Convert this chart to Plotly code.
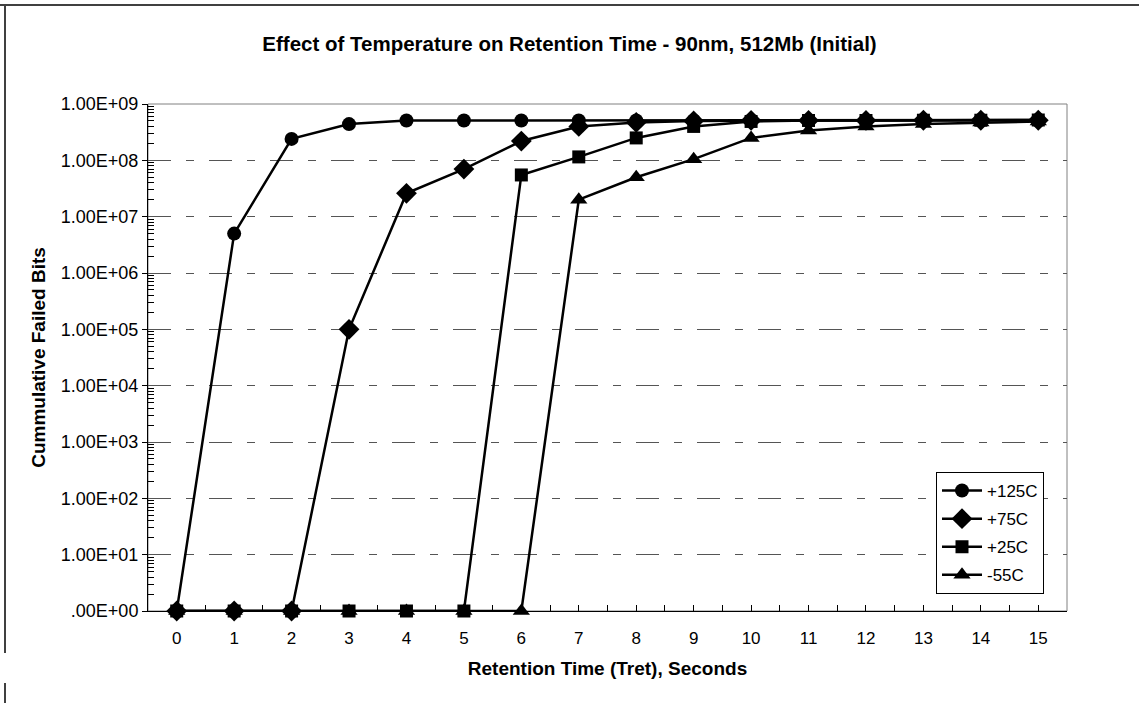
import plotly.graph_objects as go

# Retention time steps (seconds)
retention_time = list(range(16))

# Cumulative failed bits per temperature (zero-fail points sit on the 1.00E+00 floor)
fails_125c = [1, 5.0e6, 2.4e8, 4.4e8, 5.1e8, 5.1e8, 5.1e8, 5.1e8, 5.1e8, 5.1e8,
              5.15e8, 5.15e8, 5.15e8, 5.2e8, 5.2e8, 5.2e8]
fails_75c = [1, 1, 1, 1.0e5, 2.6e7, 7.0e7, 2.2e8, 4.0e8, 4.7e8, 5.0e8,
             5.1e8, 5.1e8, 5.1e8, 5.15e8, 5.15e8, 5.15e8]
fails_25c = [1, 1, 1, 1, 1, 1, 5.5e7, 1.15e8, 2.5e8, 4.0e8,
             4.9e8, 5.1e8, 5.1e8, 5.15e8, 5.15e8, 5.2e8]
fails_m55c = [1, 1, 1, 1, 1, 1, 1, 2.0e7, 5.0e7, 1.05e8,
              2.5e8, 3.4e8, 4.0e8, 4.4e8, 4.7e8, 4.9e8]

series_names = ["+125C", "+75C", "+25C", "-55C"]
series_values = [fails_125c, fails_75c, fails_25c, fails_m55c]
series_symbols = ["circle", "diamond", "square", "triangle-up"]
series_sizes = [14, 16, 13, 15]

y_tick_vals = [10 ** k for k in range(10)]
y_tick_text = [".00E+00", "1.00E+01", "1.00E+02", "1.00E+03", "1.00E+04",
               "1.00E+05", "1.00E+06", "1.00E+07", "1.00E+08", "1.00E+09"]
y_minor_vals = [m * 10 ** k for k in range(9) for m in range(2, 10)]

FONT = "Liberation Sans, Arial, sans-serif"

fig = go.Figure()
for name, vals, sym, size in zip(series_names, series_values, series_symbols, series_sizes):
    fig.add_trace(go.Scatter(
        x=retention_time, y=vals, name=name, legendgroup=name,
        mode="lines+markers",
        line=dict(color="black", width=2.5),
        marker=dict(symbol=sym, size=size, color="black"),
        cliponaxis=False,
    ))

# plot area: x 148..1067, y 104..611 px
L, R, T, B = 148, 1067, 104, 611
W, H = 1139, 703
pw, ph = R - L, B - T


def px_x(p):
    return (p - L) / pw


def px_y(p):
    return (B - p) / ph


shapes = [
    # grey plot-area border
    dict(type="rect", xref="paper", yref="paper", x0=0, x1=1, y0=0, y1=1,
         line=dict(color="#808080", width=1), layer="below"),
    # outer chart frame pieces
    dict(type="line", xref="paper", yref="paper", x0=px_x(0), x1=px_x(W),
         y0=px_y(5), y1=px_y(5), line=dict(color="#404040", width=2)),
    dict(type="line", xref="paper", yref="paper", x0=px_x(5), x1=px_x(5),
         y0=px_y(5), y1=px_y(653), line=dict(color="#404040", width=2)),
    dict(type="line", xref="paper", yref="paper", x0=px_x(5), x1=px_x(5),
         y0=px_y(683), y1=px_y(W), line=dict(color="#404040", width=2)),
]

fig.update_layout(
    width=W, height=H,
    margin=dict(l=L, r=W - R, t=T, b=H - B, pad=0),
    paper_bgcolor="white", plot_bgcolor="white",
    font=dict(family=FONT, color="black", size=17),
    title=dict(
        text="<b>Effect of Temperature on Retention Time - 90nm, 512Mb (Initial)</b>",
        x=0.5, xref="container", xanchor="center",
        y=1 - 44 / H, yref="container", yanchor="middle",
        font=dict(size=20.5, family=FONT, color="black"),
    ),
    showlegend=True,
    legend=dict(
        x=px_x(936), xanchor="left", y=px_y(472), yanchor="top",
        bgcolor="white", bordercolor="black", borderwidth=1,
        font=dict(size=17, family=FONT), tracegroupgap=3,
        itemwidth=40,
    ),
    shapes=shapes,
)

fig.update_xaxes(
    range=[-0.5, 15.5], tickvals=retention_time,
    ticktext=[str(v) for v in retention_time],
    showgrid=False, zeroline=False,
    showline=True, linecolor="black", linewidth=1,
    ticks="inside", ticklen=6, tickcolor="black",
    minor=dict(tickvals=[v + 0.5 for v in range(-1, 16)], ticks="inside",
               ticklen=6, tickcolor="black", showgrid=False),
    ticklabelstandoff=12,
    tickfont=dict(size=17, family=FONT),
    title=dict(text="<b>Retention Time (Tret), Seconds</b>",
               font=dict(size=19, family=FONT), standoff=14),
)

fig.update_yaxes(
    type="log", range=[0, 9],
    tickvals=y_tick_vals, ticktext=y_tick_text,
    showgrid=True, gridcolor="#555555", gridwidth=1,
    griddash="23px,15px,8px,15px",
    zeroline=False,
    showline=True, linecolor="black", linewidth=1,
    ticks="outside", ticklen=5, tickcolor="black",
    minor=dict(tickvals=y_minor_vals, ticks="inside", ticklen=6,
               tickcolor="black", showgrid=False),
    tickfont=dict(size=18, family=FONT),
    title=dict(text="<b>Cummulative Failed Bits</b>",
               font=dict(size=19, family=FONT), standoff=10),
)

fig.write_html("out.html")
